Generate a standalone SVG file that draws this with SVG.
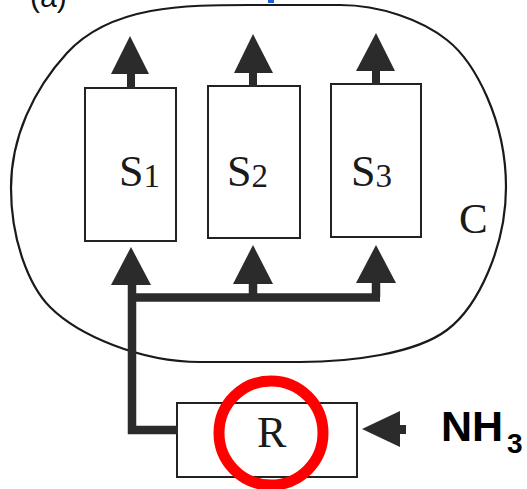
<svg xmlns="http://www.w3.org/2000/svg" width="527" height="489" viewBox="0 0 527 489">
  <style>
    .box { fill: #ffffff; stroke: #222; stroke-width: 2; }
    .outline { fill: none; stroke: #1a1a1a; stroke-width: 2.2; }
    .head { fill: #2b2b2b; }
    .pipe { fill: none; stroke: #2b2b2b; stroke-width: 8.5; stroke-linejoin: miter; }
    .lbl { font-family: "Liberation Serif", "Times New Roman", serif; fill: #1a1a1a; }
    .nh { font-family: "Liberation Sans", Arial, sans-serif; font-weight: bold; fill: #000; }
  </style>
  <rect x="0" y="0" width="527" height="489" fill="#ffffff"/>

  <text x="30" y="7" font-family="'Liberation Sans', Arial, sans-serif" font-size="30" fill="#111">(a)</text>
  <rect x="268" y="0" width="6" height="3" fill="#1f5fd8"/>

  <g id="C">
    <path class="outline" d="M 11 188 C 11 138, 33 90, 67 53 C 111 5, 185 5, 250 5 L 340 5 C 380 5, 422 20, 447 40 C 474.6 61.7, 506 120, 506 187 C 506 245, 479 306, 447 330 C 415 354, 350 362, 300 362 L 200 362 C 140 362, 78 335, 50 307 C 29 286, 11 240, 11 188 Z"/>
    <text class="lbl" x="459" y="233" font-size="43">C</text>
  </g>

  <g id="S1">
    <rect class="box" x="85" y="88" width="91" height="153"/>
    <text class="lbl" x="119" y="186" font-size="44">S<tspan font-size="33" dy="1">1</tspan></text>
  </g>
  <g id="S2">
    <rect class="box" x="208" y="86" width="92" height="152"/>
    <text class="lbl" x="227" y="186" font-size="44">S<tspan font-size="33" dy="1">2</tspan></text>
  </g>
  <g id="S3">
    <rect class="box" x="331" y="84" width="90" height="153"/>
    <text class="lbl" x="351" y="186" font-size="44">S<tspan font-size="33" dy="1">3</tspan></text>
  </g>

  <g id="R">
    <rect class="box" x="177" y="403" width="180" height="74"/>
    <text class="lbl" x="257" y="447" font-size="44">R</text>
  </g>

  <g id="NH3">
    <text class="nh" x="441" y="441" font-size="43">NH<tspan font-size="28" x="507" y="453">3</tspan></text>
  </g>

  <g id="connectors">
    <!-- outputs on top -->
    <rect class="head" x="127" y="72" width="8" height="17"/>
    <polygon class="head" points="130,36 111,74 149,74"/>
    <rect class="head" x="249" y="71" width="8" height="16"/>
    <polygon class="head" points="253,34 234,73 273,73"/>
    <rect class="head" x="372" y="69" width="8" height="16"/>
    <polygon class="head" points="376,33 356,71 395,71"/>

    <!-- feed from R to S boxes -->
    <path class="pipe" d="M 178 430 L 132 430 L 132 283"/>
    <path class="pipe" d="M 132 297.5 L 380 297.5"/>
    <path class="pipe" d="M 253 282 L 253 297"/>
    <path class="pipe" d="M 376 281 L 376 297"/>
    <polygon class="head" points="131,247 111,285 151,285"/>
    <polygon class="head" points="253,245 233,284 273,284"/>
    <polygon class="head" points="376,245 356,283 396,283"/>

    <!-- NH3 input -->
    <rect class="head" x="398" y="425" width="8" height="9"/>
    <polygon class="head" points="362,429 400,411 400,447"/>
  </g>

  <circle id="highlight" cx="271" cy="433" r="52" fill="none" stroke="#ff0000" stroke-width="11"/>
</svg>
